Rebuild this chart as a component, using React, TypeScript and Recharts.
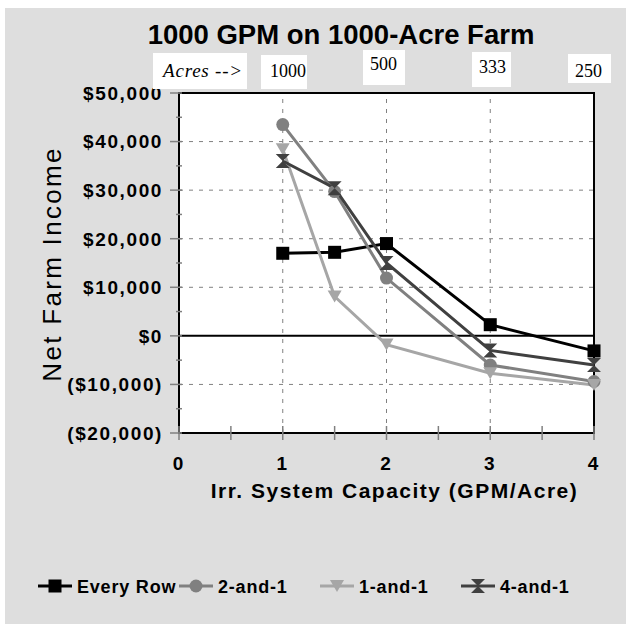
import { LineChart, Line, XAxis, YAxis, ReferenceLine, ReferenceArea, Label } from 'recharts'

const capacities = [1, 1.5, 2, 3, 4]
const everyRow = [17000, 17200, 19000, 2300, -3100]
const twoAndOne = [43500, 29700, 11900, -6000, -9400]
const oneAndOne = [38400, 8100, -1800, -7700, -10100]
const fourAndOne = [36000, 30400, 15000, -3000, -6000]

const seriesNames = ['Every Row', '2-and-1', '1-and-1', '4-and-1']
const chartTitle = '1000 GPM on 1000-Acre Farm'
const acresCaption = 'Acres -->'
const acresLabels = ['1000', '500', '333', '250']
const xTicks = [0, 0.5, 1, 1.5, 2, 2.5, 3, 3.5, 4]
const yTicks = [-20000, -15000, -10000, -5000, 0, 5000, 10000, 15000, 20000, 25000, 30000, 35000, 40000, 45000, 50000]
const yGrid = [-10000, 10000, 20000, 30000, 40000]
const xGrid = [1, 2, 3]

const W = 621
const H = 616
const FONT = '"Liberation Sans", Arial, sans-serif'
const SERIF = '"Liberation Serif", "Times New Roman", serif'

const data = capacities.map((c, i) => ({
  cap: c,
  everyRow: everyRow[i],
  twoAndOne: twoAndOne[i],
  oneAndOne: oneAndOne[i],
  fourAndOne: fourAndOne[i],
}))

type Shape = 'square' | 'circle' | 'triDown' | 'hourglass'

const series: { key: string; color: string; shape: Shape }[] = [
  { key: 'everyRow', color: '#000000', shape: 'square' },
  { key: 'twoAndOne', color: '#808080', shape: 'circle' },
  { key: 'oneAndOne', color: '#a6a6a6', shape: 'triDown' },
  { key: 'fourAndOne', color: '#404040', shape: 'hourglass' },
]

// where the little white "acres" boxes sit (wrapper coords)
const acresBoxes = [
  { x: 256, y: 47, w: 46, h: 34, tx: 265, ty: 69 },
  { x: 358, y: 42, w: 42, h: 35, tx: 365, ty: 62 },
  { x: 467, y: 44, w: 39, h: 35, tx: 474, ty: 65 },
  { x: 563, y: 46, w: 43, h: 29, tx: 570, ty: 69 },
]

function marker(shape: Shape, cx: number, cy: number, color: string, key?: string) {
  if (shape === 'square') return <rect key={key} x={cx - 6.5} y={cy - 6.5} width={13} height={13} fill={color} />
  if (shape === 'circle') return <circle key={key} cx={cx} cy={cy} r={6.5} fill={color} />
  if (shape === 'triDown')
    return <polygon key={key} points={`${cx - 7},${cy - 6} ${cx + 7},${cy - 6} ${cx},${cy + 6}`} fill={color} />
  return (
    <path
      key={key}
      d={`M${cx - 7} ${cy - 7}L${cx + 7} ${cy - 7}L${cx} ${cy}Z M${cx - 7} ${cy + 7}L${cx + 7} ${cy + 7}L${cx} ${cy}Z`}
      fill={color}
    />
  )
}

const money = (v: number) => {
  const s = '$' + Math.abs(v).toLocaleString('en-US')
  return v < 0 ? `(${s})` : s
}

const YTick = ({ x, y, payload }: any) => {
  const v = payload.value
  const major = v % 10000 === 0
  return (
    <g>
      <line x1={x - (major ? 9 : 3)} x2={x + 3} y1={y} y2={y} stroke="#808080" strokeWidth={1.5} />
      {major && (
        <text x={x - 16} y={y} dy="0.36em" textAnchor="end" fontSize={19} fontWeight="bold" fontFamily={FONT} letterSpacing={1.6} fill="#000">
          {money(v)}
        </text>
      )}
    </g>
  )
}

const XTick = ({ x, y, payload }: any) => {
  const v = payload.value
  return (
    <g>
      <line x1={x} x2={x} y1={y - 7} y2={y + 7} stroke="#808080" strokeWidth={1.5} />
      {Number.isInteger(v) && (
        <text x={x - 1} y={y + 37} textAnchor="middle" fontSize={19} fontWeight="bold" fontFamily={FONT} fill="#000">
          {v}
        </text>
      )}
    </g>
  )
}

export default function App() {
  return (
    <div style={{ position: 'absolute', left: 5, top: 8, width: W, height: H, background: '#dedede', fontFamily: FONT }}>
      <LineChart width={W} height={H} data={data} margin={{ top: 85, right: 32, bottom: 121, left: 74 }}>
        <XAxis
          dataKey="cap"
          type="number"
          domain={[0, 4]}
          ticks={xTicks}
          interval={0}
          axisLine={false}
          tickLine={false}
          tickSize={0}
          tickMargin={0}
          height={70}
          tick={<XTick />}
        >
          <Label
            content={({ viewBox }: any) => (
              <text
                x={viewBox.x + viewBox.width / 2 + 8}
                y={viewBox.y + 65}
                textAnchor="middle"
                fontSize={21}
                fontWeight="bold"
                fontFamily={FONT}
                letterSpacing={1.5}
                fill="#000"
              >
                Irr. System Capacity (GPM/Acre)
              </text>
            )}
          />
        </XAxis>
        <YAxis
          type="number"
          domain={[-20000, 50000]}
          ticks={yTicks}
          interval={0}
          axisLine={false}
          tickLine={false}
          tickSize={0}
          tickMargin={0}
          width={100}
          tick={<YTick />}
        >
          <Label
            content={({ viewBox }: any) => {
              const cx = viewBox.x - 27
              const cy = viewBox.y + viewBox.height / 2 + 1
              return (
                <text
                  x={cx}
                  y={cy}
                  dy="0.36em"
                  transform={`rotate(-90 ${cx} ${cy})`}
                  textAnchor="middle"
                  fontSize={26}
                  fontFamily={FONT}
                  letterSpacing={2.3}
                  fill="#000"
                >
                  Net Farm Income
                </text>
              )
            }}
          />
        </YAxis>
        <ReferenceArea x1={0} x2={4} y1={-20000} y2={50000} fill="#ffffff" fillOpacity={1} stroke="#000" strokeWidth={2} />
        {yGrid.map((v) => (
          <ReferenceLine key={`h${v}`} y={v} stroke="#808080" strokeDasharray="4 6" strokeWidth={1} />
        ))}
        {xGrid.map((v) => (
          <ReferenceLine key={`v${v}`} x={v} stroke="#808080" strokeDasharray="4 6" strokeWidth={1} />
        ))}
        <ReferenceLine y={0} stroke="#000" strokeWidth={2} />
        {series.map((s, i) => (
          <Line
            key={s.key}
            dataKey={s.key}
            name={seriesNames[i]}
            stroke={s.color}
            strokeWidth={3}
            isAnimationActive={false}
            dot={(p: any) => marker(s.shape, p.cx, p.cy, s.color, `${s.key}-${p.index}`)}
            activeDot={false}
          />
        ))}
      </LineChart>

      <svg width={W} height={H} style={{ position: 'absolute', left: 0, top: 0, pointerEvents: 'none' }}>
        <text x={336} y={36} textAnchor="middle" fontSize={27.5} fontWeight="bold" fontFamily={FONT} fill="#000">
          {chartTitle}
        </text>
        <rect x={148} y={45} width={94} height={36} fill="#fff" />
        <text x={158} y={69} fontSize={19} fontStyle="italic" fontFamily={SERIF} letterSpacing={0.8} fill="#000">
          {acresCaption}
        </text>
        {acresLabels.map((t, i) => {
          const b = acresBoxes[i]
          return (
            <g key={t}>
              <rect x={b.x} y={b.y} width={b.w} height={b.h} fill="#fff" />
              <text x={b.tx} y={b.ty} fontSize={18} fontFamily={SERIF} fill="#000">
                {t}
              </text>
            </g>
          )
        })}
        {series.map((s, i) => {
          const x0 = 33 + i * 141
          const cy = 578
          return (
            <g key={s.key}>
              <line x1={x0} x2={x0 + 34} y1={cy} y2={cy} stroke={s.color} strokeWidth={3} />
              {marker(s.shape, x0 + 17, cy, s.color)}
              <text x={x0 + 39} y={cy + 7} fontSize={18} fontWeight="bold" fontFamily={FONT} letterSpacing={0.8} fill="#000">
                {seriesNames[i]}
              </text>
            </g>
          )
        })}
      </svg>
    </div>
  )
}
